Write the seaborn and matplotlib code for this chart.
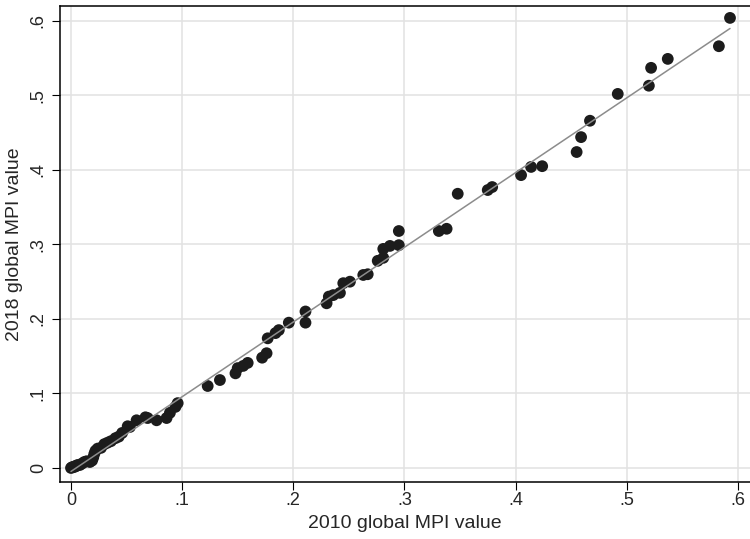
import numpy as np
import pandas as pd
import matplotlib
matplotlib.use("Agg")
import matplotlib.pyplot as plt
import seaborn as sns

# MPI values (2010 vs 2018)
mpi_2010 = [0.000, 0.001, 0.002, 0.003, 0.004, 0.005, 0.006, 0.008, 0.010, 0.012,
            0.014, 0.017, 0.019, 0.020, 0.021, 0.022, 0.024, 0.027, 0.030, 0.033,
            0.036, 0.040, 0.043, 0.046, 0.051, 0.053, 0.059, 0.067, 0.069, 0.077,
            0.086, 0.089, 0.094, 0.096,
            0.123, 0.134, 0.148, 0.150, 0.155, 0.159, 0.172, 0.176, 0.177, 0.184,
            0.187, 0.196, 0.211, 0.211,
            0.230, 0.232, 0.236, 0.242, 0.245, 0.251, 0.263, 0.267, 0.276, 0.281,
            0.281, 0.287, 0.295, 0.295, 0.331, 0.338, 0.348,
            0.375, 0.379, 0.405, 0.414, 0.424, 0.455, 0.459, 0.467, 0.492, 0.520,
            0.522, 0.537, 0.583, 0.593]
mpi_2018 = [0.000, 0.001, 0.001, 0.002, 0.002, 0.003, 0.004, 0.004, 0.006, 0.008,
            0.009, 0.008, 0.010, 0.014, 0.019, 0.023, 0.026, 0.027, 0.032, 0.034,
            0.036, 0.040, 0.042, 0.047, 0.056, 0.055, 0.064, 0.068, 0.067, 0.064,
            0.067, 0.074, 0.082, 0.087,
            0.110, 0.118, 0.127, 0.134, 0.137, 0.141, 0.148, 0.154, 0.174, 0.181,
            0.185, 0.195, 0.210, 0.195,
            0.221, 0.230, 0.232, 0.235, 0.248, 0.250, 0.259, 0.260, 0.278, 0.282,
            0.294, 0.298, 0.299, 0.318, 0.318, 0.321, 0.368,
            0.373, 0.377, 0.393, 0.404, 0.405, 0.424, 0.444, 0.466, 0.502, 0.513,
            0.537, 0.549, 0.566, 0.604]

ticks = [0, 0.1, 0.2, 0.3, 0.4, 0.5, 0.6]
tick_labels = ["0", ".1", ".2", ".3", ".4", ".5", ".6"]

df = pd.DataFrame({"x": mpi_2010, "y": mpi_2018})

sns.set_style("white")
plt.rcParams["font.family"] = ["Liberation Sans", "DejaVu Sans"]

fig = plt.figure(figsize=(7.5, 5.39), dpi=100)
ax = fig.add_axes([0.08, 0.1058, 0.92, 0.8831])

sns.scatterplot(data=df, x="x", y="y", ax=ax, s=72, color="#1c1c1c",
                edgecolor="none", zorder=3)
sns.regplot(data=df, x="x", y="y", ax=ax, scatter=False, ci=None,
            line_kws={"color": "#8c8c8c", "lw": 1.1, "zorder": 4})

ax.set_xlim(-0.0099, 0.611)
ax.set_ylim(-0.0188, 0.620)
ax.set_xticks(ticks)
ax.set_xticklabels(tick_labels)
ax.set_yticks(ticks)
ax.set_yticklabels(tick_labels, rotation=90, va="center")
ax.grid(True, color="#e2e2e2", lw=1.1, zorder=0)
ax.set_axisbelow(True)

for side in ["left", "bottom", "top"]:
    ax.spines[side].set_color("black")
    ax.spines[side].set_linewidth(1.1)
ax.spines["right"].set_visible(False)

ax.tick_params(axis="both", direction="out", length=5.5, width=0.8,
               color="black", labelsize=13, pad=2, left=True, bottom=True)
ax.tick_params(axis="y", pad=4)

ax.set_xlabel("2010 global MPI value", fontsize=14, labelpad=4)
ax.set_ylabel("2018 global MPI value", fontsize=14, labelpad=5)

fig.savefig("out.png", dpi=100)
